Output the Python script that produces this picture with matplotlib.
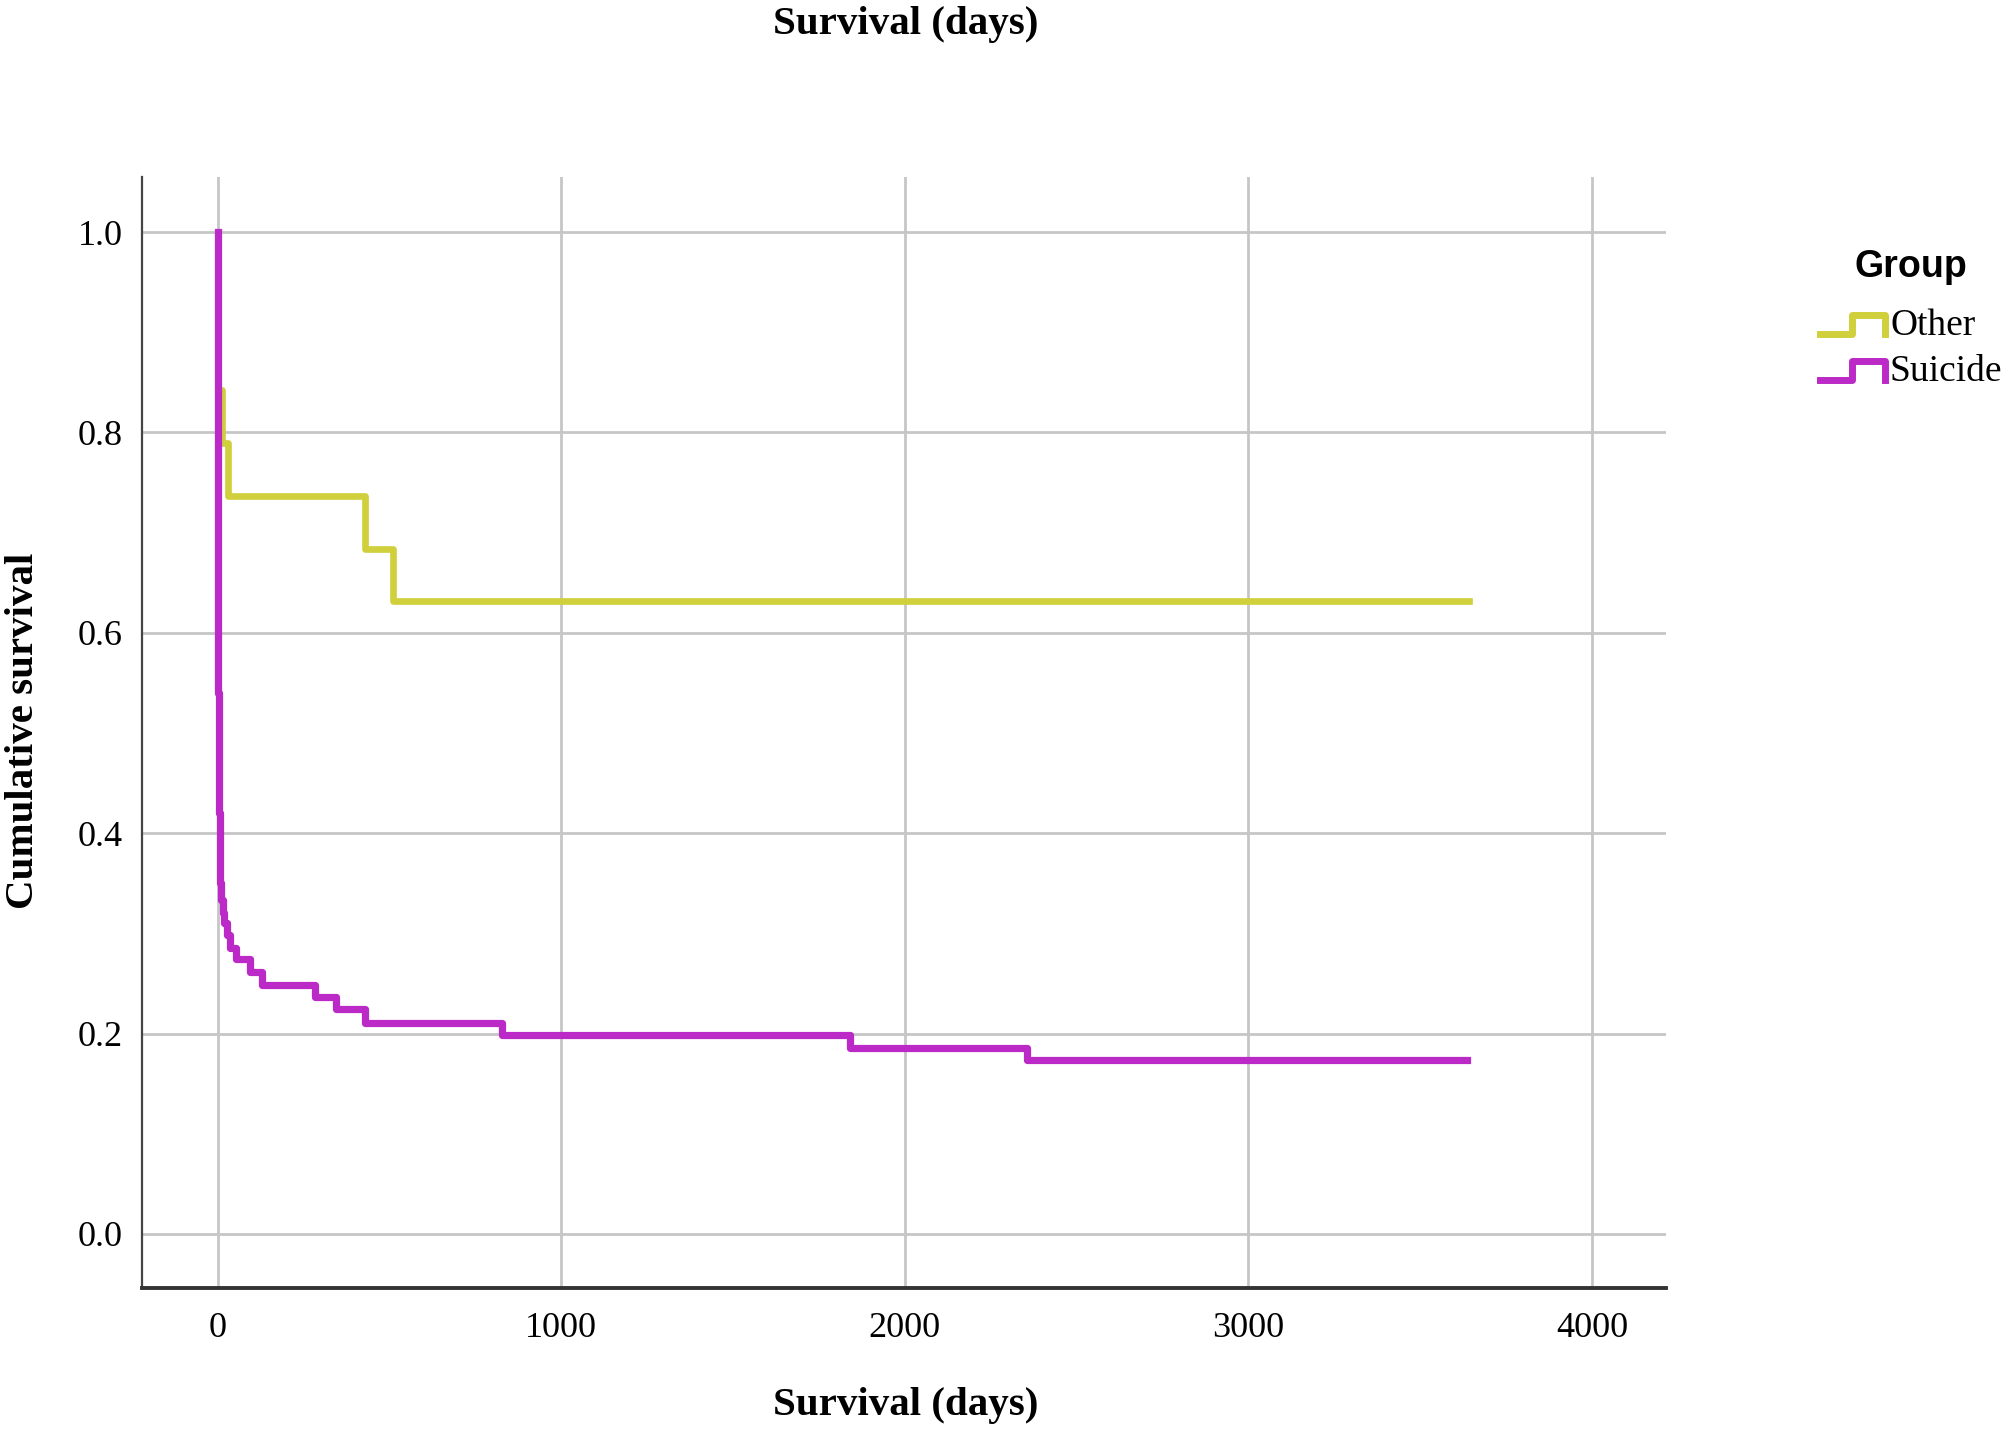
import matplotlib
matplotlib.use("Agg")
import matplotlib.pyplot as plt
from matplotlib.lines import Line2D

# Kaplan-Meier steps (days, survival after the step)
groups = ["Other", "Suicide"]
colors = ["#d0cf3c", "#bb2ac6"]

other_days = [0, 2, 13, 31, 428, 512, 3642]
other_surv = [1.0, 0.842, 0.789, 0.737, 0.684, 0.632, 0.632]

suicide_days = [0, 0.5, 1, 2, 3, 4, 6, 8, 11, 15, 20, 27, 36, 55, 94, 128,
                283, 346, 429, 827, 1842, 2356, 3638]
suicide_surv = [1.0, 0.80, 0.64, 0.54, 0.47, 0.42, 0.38, 0.35, 0.333, 0.32,
                0.31, 0.298, 0.2855, 0.274, 0.261, 0.248, 0.2365, 0.224,
                0.211, 0.199, 0.186, 0.174, 0.174]

x_ticks = [0, 1000, 2000, 3000, 4000]
y_ticks = [0.0, 0.2, 0.4, 0.6, 0.8, 1.0]

serif = ["Liberation Serif", "DejaVu Serif"]
sans = ["Liberation Sans", "DejaVu Sans"]

fig = plt.figure(figsize=(20.08, 14.33), dpi=100)
ax = fig.add_axes([0.0707, 0.1012, 0.759, 0.7753])

ax.plot(other_days, other_surv, drawstyle="steps-post", color=colors[0], lw=4.8, zorder=3)
ax.plot(suicide_days, suicide_surv, drawstyle="steps-post", color=colors[1], lw=5.2, zorder=4)

ax.set_xlim(-220, 4216)
ax.set_ylim(-0.054, 1.055)
ax.set_xticks(x_ticks)
ax.set_yticks(y_ticks)
ax.set_yticklabels([f"{v:.1f}" for v in y_ticks])
ax.grid(True, color="#c6c6c6", lw=2.0)
ax.set_axisbelow(True)
ax.tick_params(length=0, labelsize=26, pad=14)
ax.tick_params(axis="x", pad=17)
for lab in ax.get_xticklabels() + ax.get_yticklabels():
    lab.set_family(serif)

for s in ["top", "right"]:
    ax.spines[s].set_visible(False)
ax.spines["left"].set_color("#444444")
ax.spines["left"].set_linewidth(1.6)
ax.spines["bottom"].set_color("#333333")
ax.spines["bottom"].set_linewidth(2.8)

fig.text(0.451, 0.983, "Survival (days)", ha="center", va="center",
         fontsize=29.5, fontweight="bold", family=serif)
fig.text(0.451, 0.019, "Survival (days)", ha="center", va="center",
         fontsize=29.5, fontweight="bold", family=serif)
fig.text(0.0115, 0.49, "Cumulative survival", ha="center", va="center",
         rotation=90, fontsize=29.5, fontweight="bold", family=serif)

# legend drawn by hand with step-shaped keys, like SPSS
W, H = 2008.0, 1433.0
fig.text(1911 / W, 1 - 267 / H, "Group", ha="center", va="center",
         fontsize=27, fontweight="bold", family=sans)
for i, (name, c) in enumerate(zip(groups, colors)):
    low = 334 + 46 * i
    top = low - 19
    xs = [1820, 1852, 1852, 1885, 1885]
    ys = [low, low, top, top, low]
    fig.add_artist(Line2D([x / W for x in xs], [1 - y / H for y in ys],
                          color=c, lw=5, transform=fig.transFigure))
    fig.text(1890 / W, 1 - (low - 8) / H, name, ha="left", va="center",
             fontsize=27, family=serif)

fig.savefig("out.png", dpi=100, facecolor="white")
